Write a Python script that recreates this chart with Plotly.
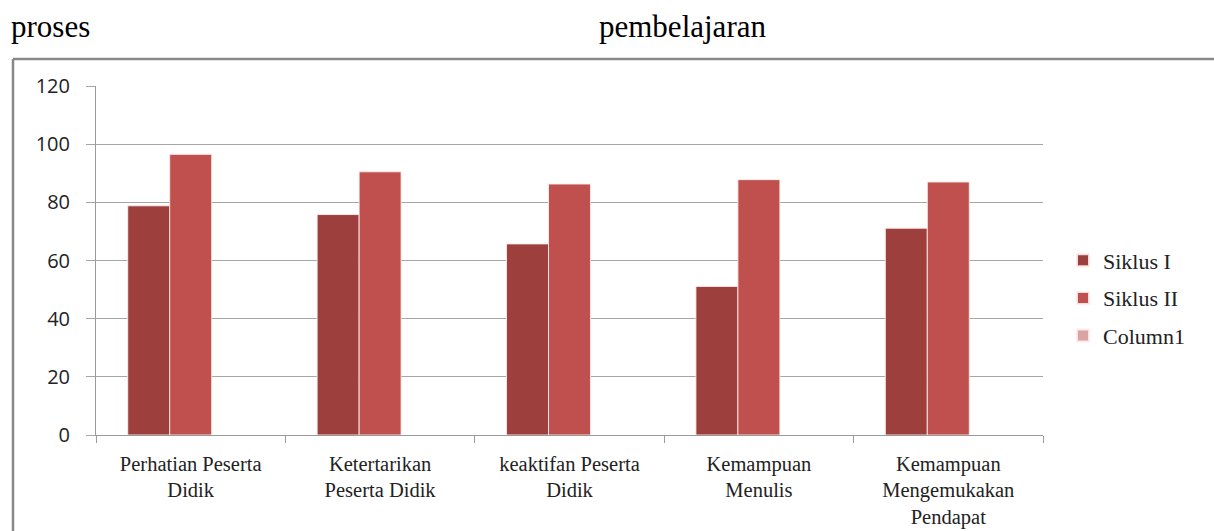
import plotly.graph_objects as go

categories = [
    "Perhatian Peserta<br>Didik",
    "Ketertarikan<br>Peserta Didik",
    "keaktifan Peserta<br>Didik",
    "Kemampuan<br>Menulis",
    "Kemampuan<br>Mengemukakan<br>Pendapat",
]
siklus_1 = [78.8, 75.8, 65.7, 51.1, 71.1]
siklus_2 = [96.5, 90.5, 86.3, 87.8, 87.0]
column_1 = [None, None, None, None, None]
y_ticks = [0, 20, 40, 60, 80, 100, 120]

W, H = 1214, 531
L, R, T, B = 96, 1214 - 1043, 86, 531 - 435
pw, ph = W - L - R, H - T - B


def px(x):
    return (x - L) / pw


def py(y):
    return ((H - B) - y) / ph


serif = "Liberation Serif, Times New Roman, serif"
sans = "Open Sans, Liberation Sans, sans-serif"

fig = go.Figure()
outline = dict(color="rgba(255,235,235,0.9)", width=1)
fig.add_trace(go.Bar(x=categories, y=siklus_1, name="Siklus I", legendgroup="a",
                     marker=dict(color="#9C3F3D", line=outline)))
fig.add_trace(go.Bar(x=categories, y=siklus_2, name="Siklus II", legendgroup="b",
                     marker=dict(color="#C0504D", line=outline)))
fig.add_trace(go.Bar(x=categories, y=column_1, name="Column1", legendgroup="c",
                     marker=dict(color="#D9A5A4", line=outline)))

fig.update_layout(
    width=W, height=H,
    margin=dict(l=L, r=R, t=T, b=B, pad=0, autoexpand=False),
    paper_bgcolor="white", plot_bgcolor="white",
    barmode="group", bargap=0.335, bargroupgap=0,
    showlegend=True,
    legend=dict(
        x=px(1063), y=py(298), xanchor="left", yanchor="middle",
        font=dict(family=serif, size=22, color="#222"),
        tracegroupgap=6, bgcolor="rgba(0,0,0,0)",
        itemsizing="constant",
    ),
    xaxis=dict(
        type="category", showgrid=False, automargin=False,
        showline=True, linecolor="#9a9a9a", linewidth=1,
        ticks="outside", tickson="boundaries", ticklen=7, tickcolor="#9a9a9a",
        tickfont=dict(family=serif, size=20.5, color="#222"),
        tickangle=0, ticklabelstandoff=10,
    ),
    yaxis=dict(
        range=[0, 120], tickvals=y_ticks, automargin=False,
        showgrid=True, gridcolor="#a6a6a6", gridwidth=1,
        showline=True, linecolor="#9a9a9a", linewidth=1,
        ticks="outside", ticklen=9, tickcolor="#a6a6a6",
        tickfont=dict(family=sans, size=20, color="#222"),
        ticklabelstandoff=12, zeroline=False,
    ),
    shapes=[
        dict(type="line", xref="paper", yref="paper",
             x0=px(13), x1=px(1230), y0=py(59), y1=py(59),
             line=dict(color="#888888", width=2.5)),
        dict(type="line", xref="paper", yref="paper",
             x0=px(13), x1=px(13), y0=py(59), y1=py(545),
             line=dict(color="#888888", width=2.5)),
    ],
    annotations=[
        dict(text="proses", xref="paper", yref="paper", x=px(9), y=py(27),
             xanchor="left", yanchor="middle", showarrow=False,
             font=dict(family=serif, size=31, color="black")),
        dict(text="pembelajaran", xref="paper", yref="paper", x=px(597), y=py(27),
             xanchor="left", yanchor="middle", showarrow=False,
             font=dict(family=serif, size=31, color="black")),
    ],
)

fig.write_html("out.html")
